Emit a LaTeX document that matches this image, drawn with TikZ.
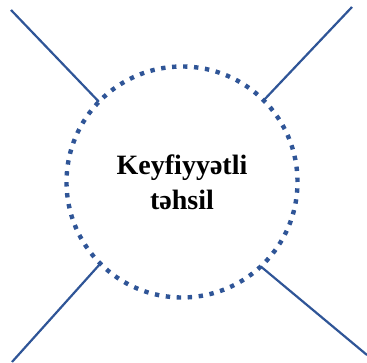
\documentclass[tikz,border=0pt]{standalone}
\usepackage{fontspec}
\setmainfont{Liberation Serif}
\definecolor{tunduy}{RGB}{47,85,151}
\tikzset{
  dairevi/.style={circle, draw=tunduy, line width=4.4pt, dash pattern=on 4.4pt off 6.6pt,
    minimum size=231pt, inner sep=0pt, outer sep=0pt, align=center,
    font=\fontsize{28}{35}\selectfont\bfseries},
  xett/.style={draw=tunduy, line width=2.2pt}
}
\begin{document}
\begin{tikzpicture}[x=1pt, y=1pt]
    \useasboundingbox (0,0) rectangle (367,363);
    % 1. Mərkəzi dairə
    \node[dairevi] (merkez) at (182,181) {Keyfiyyətli\\təhsil};

    % 2. Xətlərin uc nöqtələri
    \coordinate (ucA) at (11,353);
    \coordinate (ucB) at (352,356);
    \coordinate (ucC) at (12,1);
    \coordinate (ucD) at (367,8);

    % 3. Dairədən çıxan xətlər
    \draw[xett] (ucA) -- (merkez.136);
    \draw[xett] (ucB) -- (merkez.45.7);
    \draw[xett] (ucC) -- (merkez.225.3);
    \draw[xett] (ucD) -- (merkez.313);
\end{tikzpicture}
\end{document}
